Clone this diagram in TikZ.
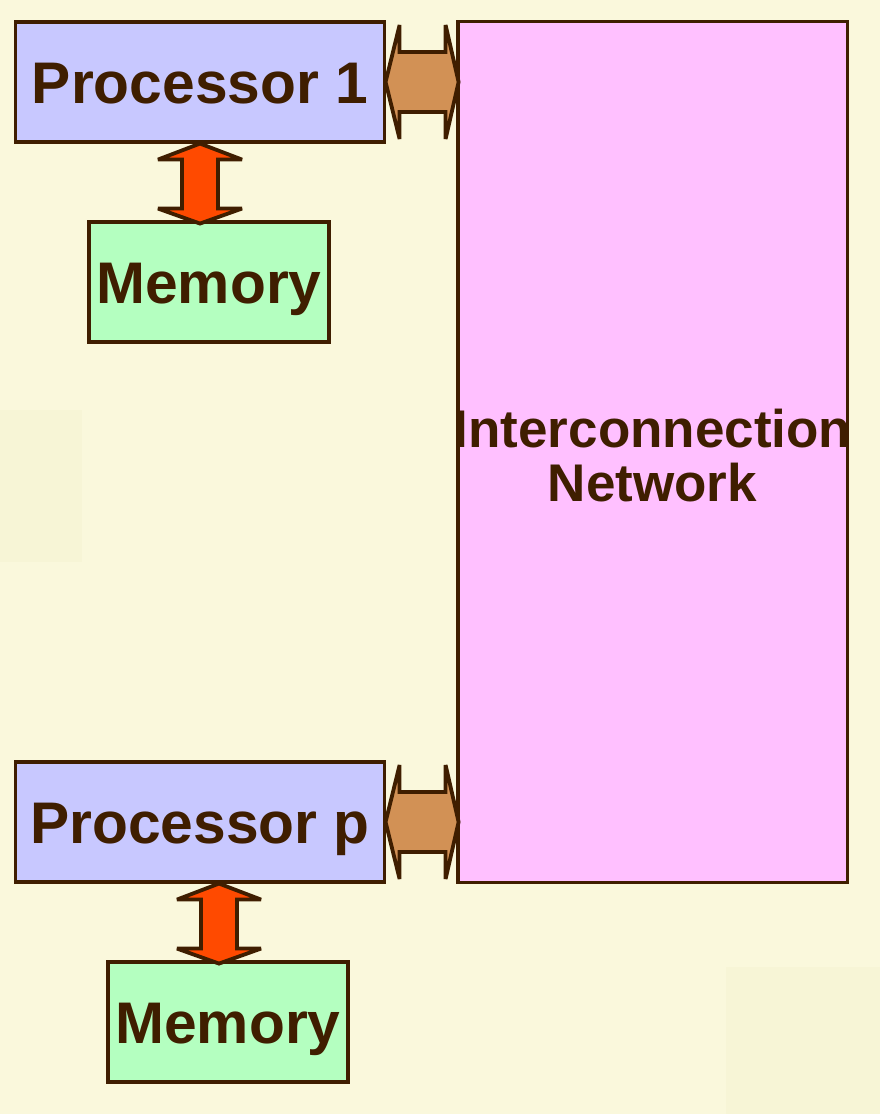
\documentclass[tikz,border=0pt]{standalone}
\usepackage{fontspec}
\setmainfont{Liberation Sans}
\usetikzlibrary{positioning,calc}
\definecolor{paper}{RGB}{250,248,220}
\definecolor{paperdim}{RGB}{247,245,214}
\definecolor{ink}{RGB}{63,30,0}
\definecolor{procfill}{RGB}{200,200,255}
\definecolor{memfill}{RGB}{180,255,192}
\definecolor{netfill}{RGB}{255,192,255}
\definecolor{netbus}{RGB}{210,145,85}
\definecolor{membus}{RGB}{255,74,0}

\begin{document}
\begin{tikzpicture}[x=0.025cm, y=-0.025cm,
  unit/.style={draw=ink, line width=2.2pt, text=ink, inner sep=0pt,
    text height=29.9pt, text depth=0pt,
    font=\bfseries\fontsize{41.75}{42}\selectfont},
  proc/.style={unit, fill=procfill, minimum width=9.2cm, minimum height=3cm},
  mem/.style={unit, fill=memfill, minimum width=6cm, minimum height=3cm},
  arrowbody/.style={draw=ink, line width=2.7pt, line join=miter, miter limit=3}]
% page
\fill[paper] (0,0) rectangle (880,1114);
\fill[paperdim] (0,410) rectangle (82,562);
\fill[paperdim] (726,967) rectangle (880,1114);
\useasboundingbox (0,0) rectangle (880,1114);
% boxes
\node[proc] (p1) at (200,82) {Processor 1};
\node[mem] (m1) at (209,282) {Memory};
\node[proc] (pp) at (200,822) {Processor p};
\node[mem] (mp) at (228,1022) {Memory};
\node[unit, fill=netfill, minimum width=9.725cm, minimum height=21.5cm] (net) at (652.5,452) {};
\node[text=ink, align=center, font=\bfseries\fontsize{37.7}{38.4}\selectfont] (nettext) at (652.5,456) {Interconnection\\Network};
% processor -- network
\draw[arrowbody, fill=netbus, shift={(p1.east)}] (0,0) -- (14,-57) -- (14,-30) -- (60,-30) -- (60,-57) -- (73,0)
  -- (60,57) -- (60,30) -- (14,30) -- (14,57) -- cycle;
\draw[arrowbody, fill=netbus, shift={(pp.east)}] (0,0) -- (14,-57) -- (14,-30) -- (60,-30) -- (60,-57) -- (73,0)
  -- (60,57) -- (60,30) -- (14,30) -- (14,57) -- cycle;
% processor -- memory
\draw[arrowbody, fill=membus, shift={(p1.south)}] (0,0) -- (42,16) -- (18,16) -- (18,65) -- (42,65) -- (0,80)
  -- (-42,65) -- (-18,65) -- (-18,16) -- (-42,16) -- cycle;
\draw[arrowbody, fill=membus, shift={($(pp.south)+(19,0)$)}] (0,0) -- (42,16) -- (18,16) -- (18,65) -- (42,65) -- (0,80)
  -- (-42,65) -- (-18,65) -- (-18,16) -- (-42,16) -- cycle;
\end{tikzpicture}
\end{document}
